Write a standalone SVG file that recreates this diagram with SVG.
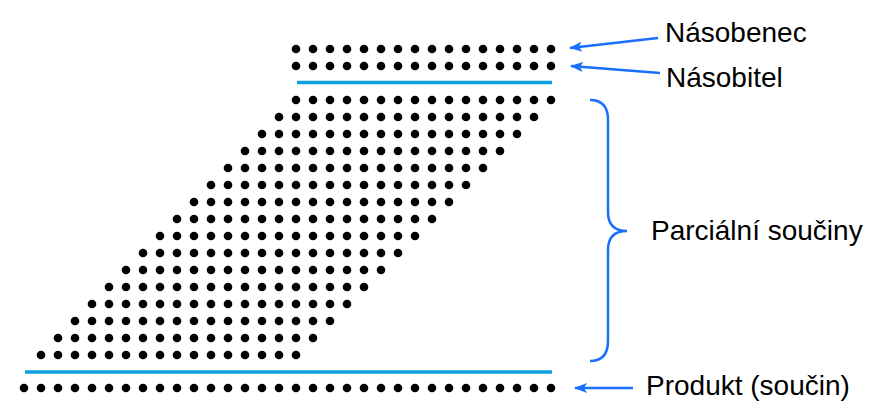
<svg xmlns="http://www.w3.org/2000/svg" xmlns:xlink="http://www.w3.org/1999/xlink" width="870" height="410" viewBox="0 0 870 410">
<style>
.dot{fill:#000}
.rule{stroke:#0fa0e0;stroke-width:3.5;fill:none}
.conn{stroke:#1a6fff;stroke-width:2.5;fill:none}
.lbl{font-family:"Liberation Sans",Arial,sans-serif;font-size:28px;fill:#000}
</style>
<defs>
<marker id="ah" markerWidth="13" markerHeight="10" refX="12" refY="5" orient="auto" markerUnits="userSpaceOnUse">
<path d="M0,0 L13,5 L0,10 L3,5 Z" fill="#1a6fff"/>
</marker>
<g id="row16">
<circle class="dot" cx="0" cy="0" r="4.3"/><circle class="dot" cx="17" cy="0" r="4.3"/><circle class="dot" cx="34" cy="0" r="4.3"/><circle class="dot" cx="51" cy="0" r="4.3"/><circle class="dot" cx="68" cy="0" r="4.3"/><circle class="dot" cx="85" cy="0" r="4.3"/><circle class="dot" cx="102" cy="0" r="4.3"/><circle class="dot" cx="119" cy="0" r="4.3"/><circle class="dot" cx="136" cy="0" r="4.3"/><circle class="dot" cx="153" cy="0" r="4.3"/><circle class="dot" cx="170" cy="0" r="4.3"/><circle class="dot" cx="187" cy="0" r="4.3"/><circle class="dot" cx="204" cy="0" r="4.3"/><circle class="dot" cx="221" cy="0" r="4.3"/><circle class="dot" cx="238" cy="0" r="4.3"/><circle class="dot" cx="255" cy="0" r="4.3"/>
</g>
</defs>
<rect width="870" height="410" fill="#fff"/>
<g id="nasobenec">
<use href="#row16" xlink:href="#row16" x="296" y="49"/>
<text class="lbl" x="665" y="42">Násobenec</text>
</g>
<g id="nasobitel">
<use href="#row16" xlink:href="#row16" x="296" y="66"/>
<text class="lbl" x="666" y="87">Násobitel</text>
</g>
<g id="line-top">
<line class="rule" x1="297" y1="82.5" x2="552" y2="82.5"/>
</g>
<g id="parcialni">
<use href="#row16" xlink:href="#row16" x="296" y="100"/>
<use href="#row16" xlink:href="#row16" x="279" y="117"/>
<use href="#row16" xlink:href="#row16" x="262" y="134"/>
<use href="#row16" xlink:href="#row16" x="245" y="151"/>
<use href="#row16" xlink:href="#row16" x="228" y="168"/>
<use href="#row16" xlink:href="#row16" x="211" y="185"/>
<use href="#row16" xlink:href="#row16" x="194" y="202"/>
<use href="#row16" xlink:href="#row16" x="177" y="219"/>
<use href="#row16" xlink:href="#row16" x="160" y="236"/>
<use href="#row16" xlink:href="#row16" x="143" y="253"/>
<use href="#row16" xlink:href="#row16" x="126" y="270"/>
<use href="#row16" xlink:href="#row16" x="109" y="287"/>
<use href="#row16" xlink:href="#row16" x="92" y="304"/>
<use href="#row16" xlink:href="#row16" x="75" y="321"/>
<use href="#row16" xlink:href="#row16" x="58" y="338"/>
<use href="#row16" xlink:href="#row16" x="41" y="355"/>
<text class="lbl" x="651" y="240">Parciální součiny</text>
</g>
<g id="line-bottom">
<line class="rule" x1="25" y1="372" x2="552" y2="372"/>
</g>
<g id="produkt">
<use href="#row16" xlink:href="#row16" x="24" y="388"/>
<use href="#row16" xlink:href="#row16" x="296" y="388"/>
<text class="lbl" x="646" y="395">Produkt (součin)</text>
</g>
<g id="connectors">
<line class="conn" x1="658" y1="38" x2="570" y2="48" marker-end="url(#ah)"/>
<line class="conn" x1="660" y1="73" x2="571" y2="66" marker-end="url(#ah)"/>
<line class="conn" x1="633" y1="388" x2="575" y2="388" marker-end="url(#ah)"/>
<path class="conn" d="M590,100 Q608,100 608,120 L608,212 Q608,231 627,231 Q608,231 608,250 L608,341 Q608,361 590,361"/>
</g>
</svg>
